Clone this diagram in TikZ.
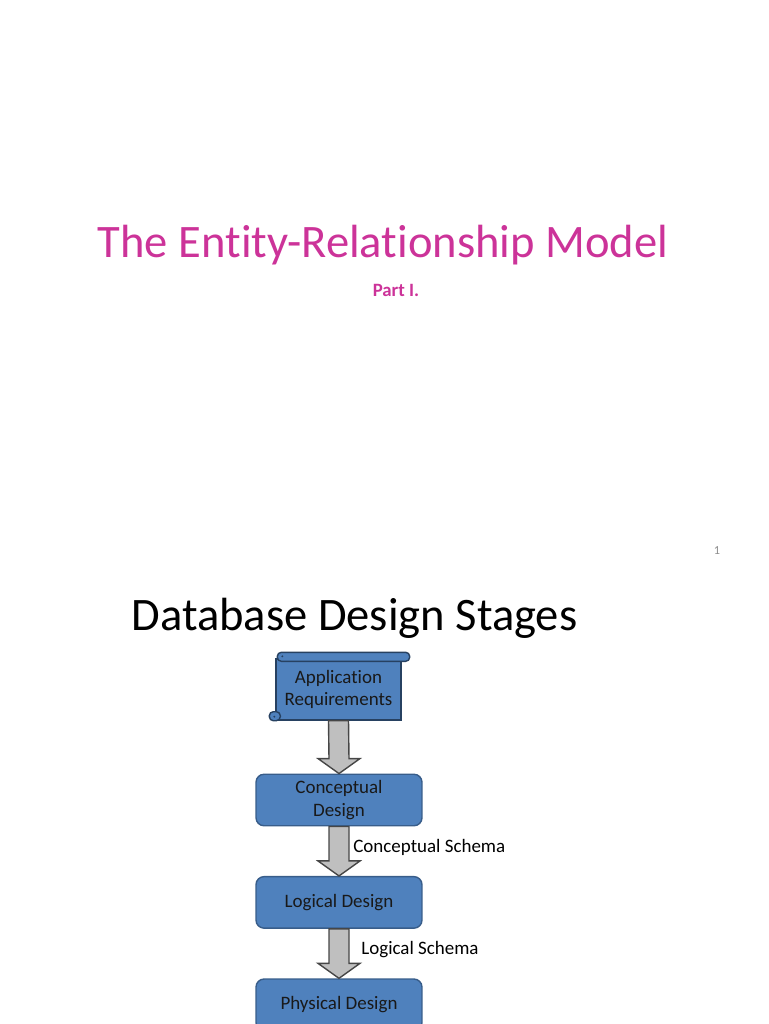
\documentclass[tikz,border=0pt]{standalone}
\usepackage{fontspec}
\setmainfont[Ligatures=NoCommon]{Carlito}
\usetikzlibrary{positioning,calc}

\definecolor{titlepink}{RGB}{204,51,153}
\definecolor{boxblue}{RGB}{79,129,189}
\definecolor{boxline}{RGB}{56,93,138}
\definecolor{arrowgray}{RGB}{191,191,191}
\definecolor{arrowline}{RGB}{70,70,70}

\tikzset{
  stage/.style={draw=boxline, fill=boxblue, thick, rounded corners=0.16cm,
    minimum width=3.32cm, minimum height=1.03cm, align=center,
    text=black!90, font=\fontsize{10.8}{13}\selectfont, inner sep=0pt},
  scroll/.style={draw=boxline!70!black, fill=boxblue, thick},
  schemalabel/.style={anchor=west, inner sep=0pt, font=\fontsize{10.8}{13}\selectfont},
  blockarrow/.style={draw=arrowline, fill=arrowgray, thick, line join=miter}
}

% block arrow from the bottom of one stage to the top of the next
\newcommand{\stagearrow}[2]{%
  \draw[blockarrow] ($(#1.south)+(-10,0)$) -- ($(#2.north)+(-10,-15)$)
    -- ($(#2.north)+(-21,-15)$) -- (#2.north) -- ($(#2.north)+(21,-15)$)
    -- ($(#2.north)+(10,-15)$) -- ($(#1.south)+(10,0)$) -- cycle;}

\begin{document}
\begin{tikzpicture}[x=0.02cm, y=-0.02cm]
  \useasboundingbox (0,0) rectangle (768,1024);

  % Titulo
  \node[anchor=base, text=titlepink, font=\fontsize{26.5}{30}\selectfont] (title) at (383,257) {The Entity-Relationship Model};
  \node[anchor=base, text=titlepink, font=\bfseries\fontsize{10.7}{13}\selectfont] (part) at (396,296) {Part I.};
  \node[anchor=base, text=black!45, font=\fontsize{7}{8}\selectfont] (pagenum) at (717,554) {1};

  % Encabezado
  \node[anchor=base, font=\fontsize{26.5}{30}\selectfont] (heading) at (354.5,630) {Database Design Stages};

  % Etapas
  \node[scroll, minimum width=2.5cm, minimum height=1.22cm, inner sep=0pt, align=center,
        text=black!90, font=\fontsize{10.8}{13}\selectfont] (app) at (338.5,689.5) {Application\\Requirements};
  \draw[scroll, rounded corners=0.08cm] ($(app.north west)+(2,-6)$) rectangle ($(app.north east)+(8,3)$);
  \draw[scroll] ($(app.north west)+(7,-2)$) circle (0.06);
  \draw[scroll, rounded corners=0.08cm] ($(app.south west)+(-6,-9)$) rectangle ($(app.south west)+(5,0)$);
  \draw[scroll] ($(app.south west)+(-1,-4)$) circle (0.05);

  \node[stage] (concept) at (339,800) {Conceptual\\Design};
  \node[stage, below=0.99cm of concept] (logic) {Logical Design};
  \node[stage, below=0.99cm of logic] (phys) {Physical Design};

  % Flechas
  \stagearrow{app}{concept}
  \stagearrow{concept}{logic}
  \stagearrow{logic}{phys}

  \node[schemalabel] (cschema) at ($(concept.south)!0.5!(logic.north)+(14,-4)$) {Conceptual Schema};
  \node[schemalabel] (lschema) at ($(logic.south)!0.5!(phys.north)+(22,-4)$) {Logical Schema};
\end{tikzpicture}
\end{document}
